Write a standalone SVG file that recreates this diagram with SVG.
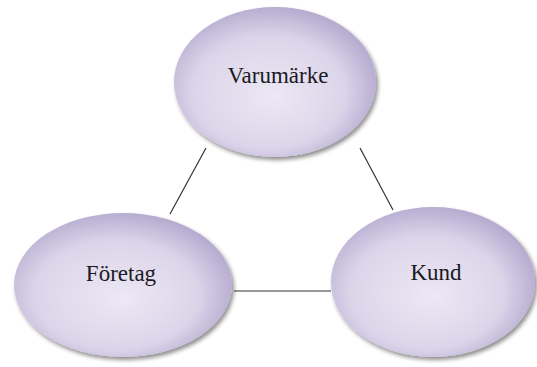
<svg xmlns="http://www.w3.org/2000/svg" width="537" height="367" viewBox="0 0 537 367">
<defs>
<radialGradient id="g" cx="0.45" cy="0.55" r="0.62" fx="0.5" fy="0.6">
<stop offset="0" stop-color="#ece8f4"/>
<stop offset="0.6" stop-color="#dcd5ea"/>
<stop offset="1" stop-color="#aa9fc8"/>
</radialGradient>
<filter id="sh" x="-10%" y="-10%" width="125%" height="125%">
<feGaussianBlur in="SourceAlpha" stdDeviation="2"/>
<feOffset dx="2" dy="3"/>
<feComponentTransfer><feFuncA type="linear" slope="0.45"/></feComponentTransfer>
<feMerge><feMergeNode/><feMergeNode in="SourceGraphic"/></feMerge>
</filter>
</defs>
<style>
.n{fill:url(#g);filter:url(#sh)}
.t{font-family:"Liberation Serif","Times New Roman",serif;font-size:23px;fill:#1a1a24;text-anchor:middle}
.c{stroke:#333;stroke-width:1.2;fill:none}
</style>
<rect width="537" height="367" fill="#fff"/>
<g id="connectors">
<line class="c" x1="206" y1="148" x2="170" y2="214"/>
<line class="c" x1="360" y1="148" x2="393" y2="210"/>
<line class="c" x1="234" y1="291" x2="331" y2="291"/>
</g>
<g id="varumarke">
<ellipse class="n" cx="275" cy="82" rx="101" ry="75"/>
<text class="t" x="278" y="83">Varumärke</text>
</g>
<g id="foretag">
<ellipse class="n" cx="123" cy="285" rx="109" ry="72"/>
<text class="t" x="121" y="281">Företag</text>
</g>
<g id="kund">
<ellipse class="n" cx="433" cy="282" rx="102" ry="75"/>
<text class="t" x="436" y="280">Kund</text>
</g>
</svg>
